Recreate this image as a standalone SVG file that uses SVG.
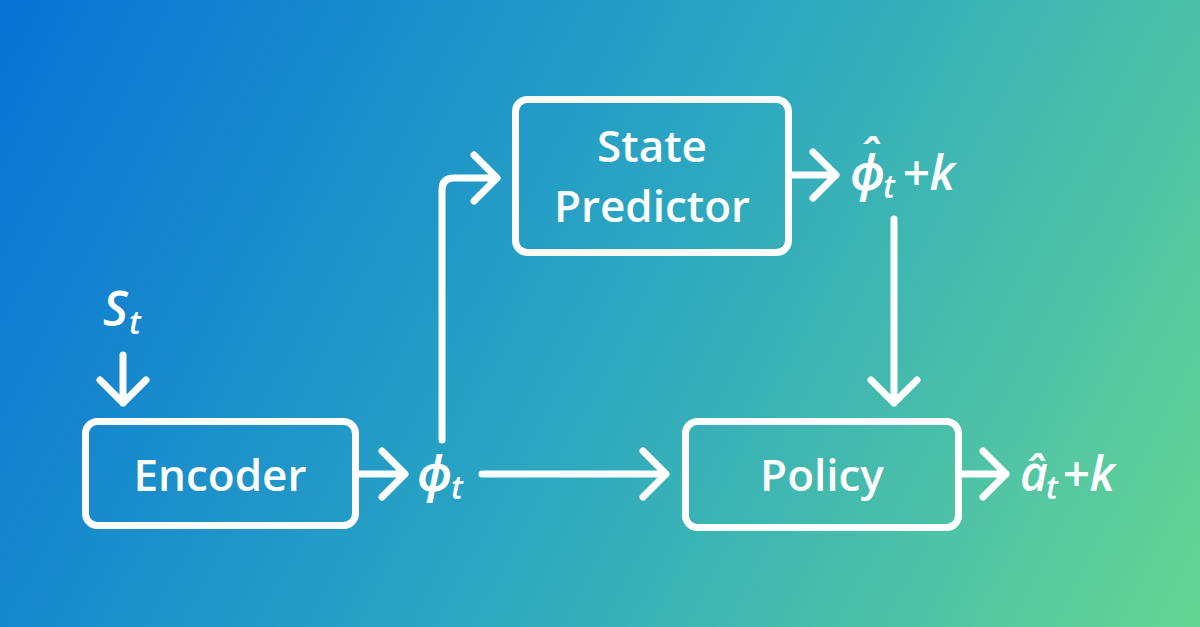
<svg xmlns="http://www.w3.org/2000/svg" width="1200" height="627" viewBox="0 0 1200 627">
  <defs>
    <linearGradient id="bg" gradientUnits="userSpaceOnUse" x1="0" y1="0" x2="1200" y2="627">
      <stop offset="0" stop-color="#0872d6"/>
      <stop offset="0.5" stop-color="#2aa6c2"/>
      <stop offset="1" stop-color="#66d593"/>
    </linearGradient>
    <style>
      .box { fill: none; stroke: #ffffff; stroke-width: 7; }
      .line { fill: none; stroke: #ffffff; stroke-width: 7; stroke-linecap: round; stroke-linejoin: round; }
      .lbl { fill: #ffffff; font-family: "Open Sans", "Noto Sans", "DejaVu Sans", sans-serif; font-size: 44px; font-weight: 600; text-anchor: middle; }
      .math { fill: #ffffff; font-family: "Open Sans", "Noto Sans", "DejaVu Sans", sans-serif; font-size: 48px; font-weight: 600; font-style: italic; }
      .sub { font-size: 32px; }
    </style>
  </defs>
  <rect x="0" y="0" width="1200" height="627" fill="url(#bg)"/>

  <g id="connectors">
    <path class="line" d="M123 355 V403 M100 380 L123 403 L146 380"/>
    <path class="line" d="M359 474 H405 M382 451 L405 474 L382 497"/>
    <path class="line" d="M482 474 H666 M643 451 L666 474 L643 497"/>
    <path class="line" d="M442 440 V190 Q442 178 454 178 H497 M474 155 L497 178 L474 201"/>
    <path class="line" d="M792 175 H836 M813 152 L836 175 L813 198"/>
    <path class="line" d="M894 219 V403 M871 380 L894 403 L917 380"/>
    <path class="line" d="M962 474 H1006 M983 451 L1006 474 L983 497"/>
  </g>

  <g id="encoder">
    <rect class="box" x="85.5" y="421.5" width="270" height="104" rx="12"/>
    <text class="lbl" x="220" y="491">Encoder</text>
  </g>

  <g id="state-predictor">
    <rect class="box" x="515.5" y="99.5" width="273" height="153" rx="12"/>
    <text class="lbl" x="652" y="162">State</text>
    <text class="lbl" x="652" y="222">Predictor</text>
  </g>

  <g id="policy">
    <rect class="box" x="685.5" y="421.5" width="273" height="106" rx="12"/>
    <text class="lbl" x="822" y="491">Policy</text>
  </g>

  <g id="labels">
    <text class="math" x="103" y="326">S<tspan class="sub" x="129" y="334">t</tspan></text>
    <text class="math" x="417" y="491">ϕ<tspan class="sub" x="451" y="499">t</tspan></text>
    <text class="math" x="850" y="190">ϕ<tspan class="sub" x="883" y="198">t</tspan><tspan x="902" y="190">+k</tspan></text>
    <text class="math" x="858" y="174">ˆ</text>
    <text class="math" x="1020" y="491">â<tspan class="sub" x="1046" y="499">t</tspan><tspan x="1062" y="491">+k</tspan></text>
  </g>
</svg>
